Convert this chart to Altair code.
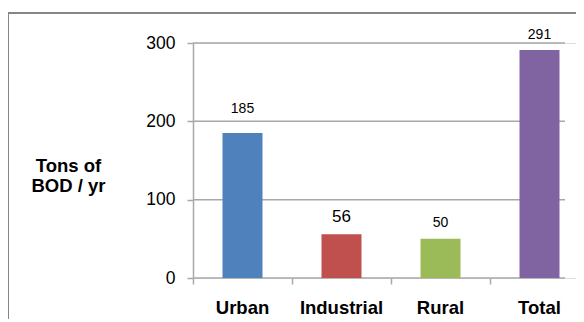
import altair as alt
import pandas as pd

categories = ["Urban", "Industrial", "Rural", "Total"]
values = [185, 56, 50, 291]
bar_colors = ["#4F81BD", "#C0504D", "#9BBB59", "#8064A2"]
y_ticks = [0, 100, 200, 300]
y_title = ["Tons of", "BOD / yr"]

FONT = "Liberation Sans"
GRAY = "#A8A8A8"

df = pd.DataFrame({"category": categories, "value": values,
                   "label": [str(v) for v in values]})
grid_df = pd.DataFrame({"value": y_ticks})
dummy = pd.DataFrame({"a": [0]})

GRID_W, H = 372, 235

y_enc = alt.Y(
    "value:Q",
    scale=alt.Scale(domain=[0, 300], nice=False, zero=True),
    axis=alt.Axis(
        values=y_ticks, grid=False, domain=True, domainColor=GRAY, domainWidth=1.5,
        ticks=True, tickColor=GRAY, tickSize=6, tickWidth=1.5,
        labelFont=FONT, labelFontSize=17.5, labelColor="#000000", labelPadding=12,
        title=y_title, titleFont=FONT, titleFontSize=18.5, titleFontWeight="bold",
        titleColor="#000000", titleAngle=0, titleAlign="center",
        titleBaseline="alphabetic", titleX=-125, titleY=128, titleLineHeight=20,
    ),
)

x_enc = alt.X(
    "category:N",
    sort=categories,
    scale=alt.Scale(domain=categories, paddingInner=0, paddingOuter=0),
    axis=alt.Axis(
        title=None, domain=False, grid=False, ticks=True, tickColor=GRAY,
        tickSize=6, tickWidth=1.5, bandPosition=0,
        labelFont=FONT, labelFontSize=18.5, labelFontWeight="bold",
        labelColor="#000000", labelAngle=0, labelBaseline="alphabetic",
        labelPadding=29,
    ),
)

grid = alt.Chart(grid_df).mark_rule(color=GRAY, strokeWidth=1.5).encode(
    y=y_enc, x=alt.value(0), x2=alt.value(GRID_W)
)

bars = alt.Chart(df).mark_bar(size=40).encode(
    x=x_enc,
    y=y_enc,
    color=alt.Color("category:N", scale=alt.Scale(domain=categories, range=bar_colors),
                    legend=None),
)

label_styles = {
    "Urban": dict(fontSize=14, dy=-20),
    "Industrial": dict(fontSize=17, dy=-12),
    "Rural": dict(fontSize=14, dy=-12),
    "Total": dict(fontSize=14, dy=-11),
}

labels = [
    alt.Chart(df).transform_filter(alt.datum.category == cat).mark_text(
        font=FONT, color="#000000", baseline="alphabetic", align="center", **st
    ).encode(x=x_enc, y=y_enc, text="label:N")
    for cat, st in label_styles.items()
]

border_left = alt.Chart(dummy).mark_rule(color="#868686", strokeWidth=2).encode(
    x=alt.value(-185), y=alt.value(-30), y2=alt.value(276)
)
border_top = alt.Chart(dummy).mark_rule(color="#868686", strokeWidth=2).encode(
    x=alt.value(-185), x2=alt.value(383), y=alt.value(-30)
)

chart = alt.layer(grid, bars, *labels, border_left, border_top).properties(
    width=alt.Step(99), height=H,
    autosize=alt.AutoSizeParams(type="none"),
    padding={"left": 185, "top": 35, "right": -13, "bottom": 41},
).configure_view(stroke=None).configure(background="#FFFFFF")

chart.save("out.html", embed_options={"renderer": "svg", "actions": False})
